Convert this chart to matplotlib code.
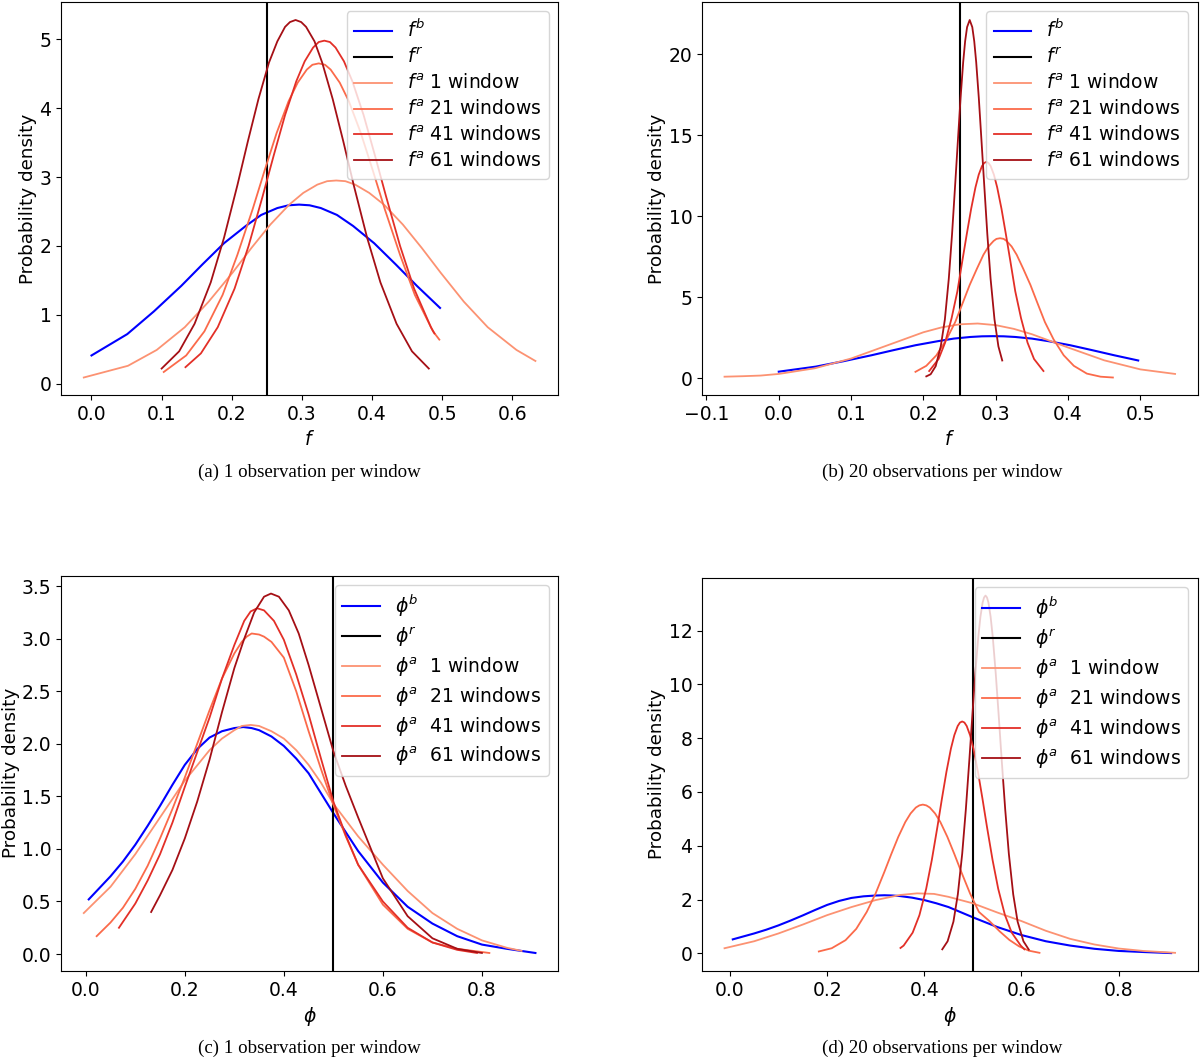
import matplotlib
matplotlib.use("Agg")
import matplotlib.pyplot as plt

# ---- (a) f, 1 observation per window ----
fb_x = [0.0, 0.051, 0.089, 0.128, 0.158, 0.189, 0.220, 0.242, 0.265, 0.281, 0.296, 0.311,
        0.327, 0.350, 0.373, 0.403, 0.434, 0.464, 0.497]
fb_y = [0.41, 0.72, 1.05, 1.42, 1.73, 2.04, 2.29, 2.45, 2.55, 2.59, 2.60, 2.59,
        2.55, 2.45, 2.29, 2.04, 1.73, 1.42, 1.10]

fa1_a_x = [-0.011, 0.052, 0.093, 0.133, 0.167, 0.201, 0.228, 0.255, 0.282, 0.302, 0.322,
           0.336, 0.349, 0.362, 0.376, 0.396, 0.417, 0.444, 0.471, 0.498, 0.531, 0.565,
           0.606, 0.633]
fa1_a_y = [0.09, 0.26, 0.49, 0.82, 1.19, 1.61, 1.97, 2.31, 2.60, 2.77, 2.89,
           2.94, 2.95, 2.94, 2.89, 2.77, 2.60, 2.31, 1.97, 1.61, 1.19, 0.82,
           0.49, 0.33]
fa21_a_x = [0.103, 0.135, 0.161, 0.187, 0.208, 0.230, 0.247, 0.264, 0.281, 0.294, 0.307,
            0.315, 0.324, 0.333, 0.341, 0.354, 0.367, 0.384, 0.401, 0.418, 0.440, 0.461,
            0.487, 0.496]
fa21_a_y = [0.17, 0.41, 0.76, 1.29, 1.87, 2.54, 3.10, 3.64, 4.10, 4.37, 4.56,
            4.63, 4.65, 4.63, 4.56, 4.37, 4.10, 3.64, 3.10, 2.54, 1.87, 1.29,
            0.76, 0.64]
fa41_a_x = [0.134, 0.156, 0.180, 0.204, 0.224, 0.244, 0.260, 0.276, 0.292, 0.304, 0.316,
            0.324, 0.332, 0.340, 0.348, 0.360, 0.372, 0.388, 0.404, 0.420, 0.440, 0.460,
            0.484, 0.489]
fa41_a_y = [0.24, 0.44, 0.82, 1.38, 2.00, 2.72, 3.32, 3.90, 4.39, 4.68, 4.88,
            4.96, 4.98, 4.96, 4.88, 4.68, 4.39, 3.90, 3.32, 2.72, 2.00, 1.38,
            0.82, 0.73]
fa61_a_x = [0.100, 0.125, 0.147, 0.170, 0.189, 0.208, 0.223, 0.238, 0.253, 0.265, 0.276,
            0.283, 0.291, 0.299, 0.306, 0.318, 0.329, 0.344, 0.359, 0.374, 0.393, 0.412,
            0.435, 0.457, 0.481]
fa61_a_y = [0.22, 0.47, 0.87, 1.47, 2.12, 2.88, 3.52, 4.13, 4.66, 4.97, 5.18,
            5.25, 5.28, 5.25, 5.18, 4.97, 4.66, 4.13, 3.52, 2.88, 2.12, 1.47,
            0.87, 0.47, 0.22]

# ---- (b) f, 20 observations per window ----
fa1_b_x = [-0.075, -0.05, -0.025, 0.0, 0.05, 0.10, 0.15, 0.20, 0.225, 0.25, 0.275, 0.30,
           0.325, 0.35, 0.40, 0.45, 0.50, 0.548]
fa1_b_y = [0.10, 0.13, 0.17, 0.27, 0.62, 1.22, 2.03, 2.84, 3.14, 3.33, 3.38, 3.28,
           3.05, 2.72, 1.90, 1.11, 0.55, 0.27]
fa21_b_x = [0.189, 0.204, 0.218, 0.232, 0.244, 0.255, 0.264, 0.274, 0.283, 0.290, 0.297,
            0.301, 0.306, 0.311, 0.315, 0.322, 0.329, 0.338, 0.348, 0.357, 0.368, 0.380,
            0.394, 0.408, 0.426, 0.445, 0.462]
fa21_b_y = [0.40, 0.77, 1.42, 2.40, 3.47, 4.72, 5.76, 6.76, 7.62, 8.13, 8.47,
            8.60, 8.64, 8.60, 8.47, 8.13, 7.62, 6.76, 5.76, 4.72, 3.47, 2.40,
            1.42, 0.77, 0.29, 0.10, 0.05]
fa41_b_x = [0.208, 0.221, 0.230, 0.239, 0.247, 0.254, 0.260, 0.266, 0.272, 0.2765, 0.281,
            0.284, 0.287, 0.290, 0.293, 0.2975, 0.302, 0.308, 0.314, 0.320, 0.327, 0.335,
            0.344, 0.353, 0.366]
fa41_b_y = [0.45, 1.19, 2.20, 3.71, 5.37, 7.29, 8.90, 10.45, 11.78, 12.56, 13.09,
            13.28, 13.35, 13.28, 13.09, 12.56, 11.78, 10.45, 8.90, 7.29, 5.37, 3.71,
            2.20, 1.19, 0.45]
fa61_b_x = [0.204, 0.210, 0.217, 0.224, 0.2297, 0.2351, 0.2396, 0.2441, 0.2478, 0.2514,
            0.255, 0.2577, 0.2604, 0.264, 0.2676, 0.2703, 0.273, 0.2766, 0.2802, 0.2839,
            0.2884, 0.2929, 0.2983, 0.3037, 0.309]
fa61_b_y = [0.12, 0.25, 0.75, 1.97, 3.63, 6.14, 8.88, 12.07, 14.74, 17.30,
            19.50, 20.79, 21.66, 22.10, 21.66, 20.79, 19.50, 17.30, 14.74, 12.07,
            8.88, 6.14, 3.63, 1.97, 1.10]

# ---- (c) phi, 1 observation per window ----
phib_x = [0.006, 0.05, 0.075, 0.10, 0.125, 0.15, 0.175, 0.20, 0.225, 0.25, 0.275, 0.30,
          0.318, 0.335, 0.35, 0.375, 0.40, 0.425, 0.45, 0.475, 0.50, 0.525, 0.55, 0.575,
          0.60, 0.65, 0.70, 0.75, 0.80, 0.85, 0.908]
phib_y = [0.52, 0.74, 0.88, 1.04, 1.22, 1.41, 1.61, 1.80, 1.95, 2.06, 2.12, 2.15,
          2.16, 2.15, 2.13, 2.07, 1.98, 1.86, 1.72, 1.53, 1.34, 1.16, 0.98, 0.83,
          0.68, 0.45, 0.29, 0.17, 0.09, 0.05, 0.01]

pa1_c_x = [-0.004, 0.05, 0.10, 0.15, 0.20, 0.25, 0.275, 0.30, 0.315, 0.333, 0.35, 0.375,
           0.40, 0.425, 0.45, 0.475, 0.50, 0.55, 0.60, 0.65, 0.70, 0.75, 0.80, 0.85, 0.88]
pa1_c_y = [0.39, 0.64, 0.95, 1.30, 1.65, 1.94, 2.05, 2.13, 2.17, 2.18, 2.17, 2.12,
           2.05, 1.94, 1.80, 1.63, 1.43, 1.12, 0.85, 0.60, 0.39, 0.24, 0.13, 0.06, 0.03]
pa21_c_x = [0.022, 0.05, 0.075, 0.10, 0.125, 0.15, 0.175, 0.20, 0.225, 0.25, 0.275, 0.30,
            0.315, 0.325, 0.335, 0.35, 0.36, 0.375, 0.40, 0.425, 0.45, 0.475, 0.50, 0.525,
            0.55, 0.60, 0.65, 0.70, 0.75, 0.815]
pa21_c_y = [0.17, 0.30, 0.44, 0.62, 0.84, 1.10, 1.38, 1.68, 2.00, 2.32, 2.62, 2.86,
            2.97, 3.02, 3.05, 3.04, 3.02, 2.97, 2.82, 2.50, 2.12, 1.76, 1.42, 1.12,
            0.85, 0.47, 0.24, 0.11, 0.05, 0.01]
pa41_c_x = [0.067, 0.10, 0.125, 0.15, 0.175, 0.20, 0.225, 0.25, 0.275, 0.30, 0.32, 0.333,
            0.346, 0.36, 0.38, 0.40, 0.425, 0.45, 0.475, 0.50, 0.525, 0.55, 0.60, 0.65,
            0.70, 0.75, 0.79]
pa41_c_y = [0.25, 0.48, 0.70, 0.95, 1.25, 1.59, 1.92, 2.25, 2.62, 2.94, 3.17, 3.26,
            3.29, 3.27, 3.17, 2.99, 2.66, 2.28, 1.86, 1.45, 1.13, 0.85, 0.50, 0.25,
            0.11, 0.04, 0.01]
pa61_c_x = [0.132, 0.15, 0.175, 0.20, 0.225, 0.25, 0.275, 0.30, 0.32, 0.34, 0.36, 0.374,
            0.39, 0.41, 0.43, 0.45, 0.475, 0.50, 0.525, 0.55, 0.60, 0.65, 0.70, 0.75, 0.80]
pa61_c_y = [0.40, 0.56, 0.80, 1.10, 1.45, 1.85, 2.30, 2.72, 3.00, 3.25, 3.40, 3.43,
            3.40, 3.27, 3.05, 2.75, 2.34, 1.93, 1.60, 1.30, 0.72, 0.36, 0.15, 0.05, 0.01]

# ---- (d) phi, 20 observations per window ----
pa1_d_x = [-0.011, 0.05, 0.10, 0.15, 0.20, 0.25, 0.30, 0.35, 0.385, 0.42, 0.45, 0.50, 0.55,
           0.60, 0.65, 0.70, 0.75, 0.80, 0.85, 0.916]
pa1_d_y = [0.19, 0.45, 0.74, 1.07, 1.42, 1.72, 1.98, 2.17, 2.23, 2.21, 2.10, 1.86, 1.52,
           1.20, 0.84, 0.54, 0.33, 0.18, 0.09, 0.02]
pa21_d_x = [0.183, 0.2095, 0.238, 0.260, 0.2816, 0.2997, 0.3177, 0.3321, 0.3465, 0.3609,
            0.3718, 0.3826, 0.3898, 0.397, 0.4042, 0.4114, 0.4222, 0.4331, 0.4475, 0.4619,
            0.4763, 0.4943, 0.5124, 0.534, 0.555, 0.575, 0.595, 0.615, 0.637]
pa21_d_y = [0.07, 0.19, 0.49, 0.91, 1.54, 2.22, 3.02, 3.69, 4.33, 4.88,
            5.20, 5.42, 5.50, 5.53, 5.50, 5.42, 5.20, 4.88, 4.33, 3.69,
            3.02, 2.22, 1.54, 1.20, 0.82, 0.50, 0.26, 0.10, 0.02]
pa41_d_x = [0.351, 0.3576, 0.3761, 0.390, 0.4039, 0.4155, 0.4271, 0.4363, 0.4456, 0.4548,
            0.4618, 0.4687, 0.4734, 0.478, 0.4826, 0.4873, 0.4942, 0.5012, 0.5104, 0.5197,
            0.5289, 0.5405, 0.5521, 0.566, 0.5799, 0.5984, 0.606]
pa41_d_y = [0.20, 0.29, 0.77, 1.42, 2.40, 3.47, 4.71, 5.75, 6.75, 7.61,
            8.11, 8.45, 8.58, 8.62, 8.58, 8.45, 8.11, 7.61, 6.75, 5.75,
            4.71, 3.47, 2.40, 1.42, 0.77, 0.29, 0.15]
pa61_d_x = [0.437, 0.448, 0.460, 0.469, 0.478, 0.4855, 0.493, 0.499, 0.505, 0.511, 0.5155,
            0.520, 0.523, 0.526, 0.529, 0.532, 0.5365, 0.541, 0.547, 0.553, 0.559, 0.5665,
            0.574, 0.583, 0.592, 0.604, 0.615]
pa61_d_y = [0.15, 0.45, 1.18, 2.19, 3.70, 5.35, 7.26, 8.87, 10.41, 11.74, 12.51,
            13.04, 13.23, 13.30, 13.23, 13.04, 12.51, 11.74, 10.41, 8.87, 7.26, 5.35,
            3.70, 2.19, 1.18, 0.45, 0.14]

f_true = 0.25
phi_true = 0.5
window_labels = ["1 window", "21 windows", "41 windows", "61 windows"]
captions = ["(a) 1 observation per window", "(b) 20 observations per window",
            "(c) 1 observation per window", "(d) 20 observations per window"]

reds = ["#fc9272", "#fb6a4a", "#e32f27", "#a50f15"]

panels = [
    dict(sym="f", truth=f_true, prior=(fb_x, fb_y),
         post=[(fa1_a_x, fa1_a_y), (fa21_a_x, fa21_a_y), (fa41_a_x, fa41_a_y), (fa61_a_x, fa61_a_y)]),
    dict(sym="f", truth=f_true, prior=(fb_x, fb_y),
         post=[(fa1_b_x, fa1_b_y), (fa21_b_x, fa21_b_y), (fa41_b_x, fa41_b_y), (fa61_b_x, fa61_b_y)]),
    dict(sym=r"\phi", truth=phi_true, prior=(phib_x, phib_y),
         post=[(pa1_c_x, pa1_c_y), (pa21_c_x, pa21_c_y), (pa41_c_x, pa41_c_y), (pa61_c_x, pa61_c_y)]),
    dict(sym=r"\phi", truth=phi_true, prior=(phib_x, phib_y),
         post=[(pa1_d_x, pa1_d_y), (pa21_d_x, pa21_d_y), (pa41_d_x, pa41_d_y), (pa61_d_x, pa61_d_y)]),
]

plt.rcParams['font.size'] = 13.5

fig = plt.figure(figsize=(12, 10.6), dpi=100)
rects = [[0.051, 0.627, 0.414, 0.371],
         [0.585, 0.627, 0.413, 0.371],
         [0.051, 0.084, 0.414, 0.373],
         [0.585, 0.084, 0.413, 0.371]]
cap_pos = [(309, 472), (942, 472), (309, 1048), (942, 1048)]

for i, p in enumerate(panels):
    ax = fig.add_axes(rects[i])
    s = p["sym"]
    gap = " " if s == "f" else "  "
    ax.plot(*p["prior"], color="blue", lw=1.5, label=r"$%s^b$" % s)
    ax.axvline(p["truth"], color="k", lw=1.5, label=r"$%s^r$" % s)
    for (x, y), c, lab in zip(p["post"], reds, window_labels):
        ax.plot(x, y, color=c, lw=1.3, label=r"$%s^a$" % s + gap + lab)
    ax.set_xlabel(r"$%s$" % s)
    ax.set_ylabel("Probability density", fontsize=13.2, labelpad=1.5)
    ax.legend(loc="upper right", fontsize=13.5, labelspacing=0.35)
    cx, cy = cap_pos[i]
    fig.text(cx / 1200, 1 - cy / 1060, captions[i], ha="center", va="center",
             family="Liberation Serif", fontsize=13.6)

fig.savefig("out.png", dpi=100)
